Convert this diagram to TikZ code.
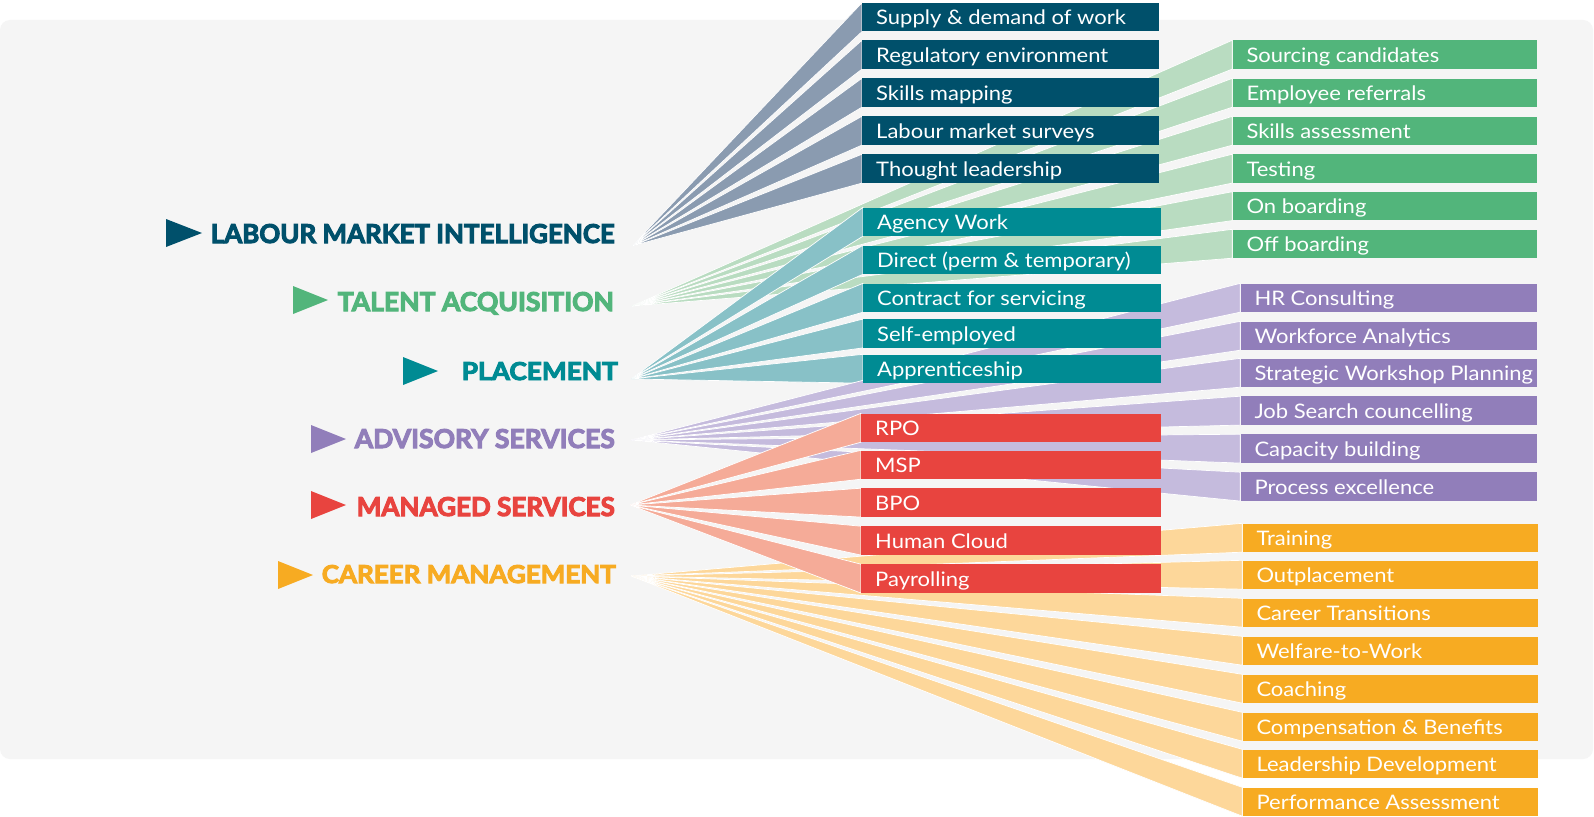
\documentclass[tikz,border=0pt]{standalone}
\usepackage{fontspec}
\usepackage{graphicx}
\setmainfont{Lato}
\newfontfamily\itemfont{Lato}[FakeStretch=1.1]
\newfontfamily\headfont{Lato}[BoldFeatures={FakeBold=4}]
\definecolor{bgc}{HTML}{F5F5F5}
\definecolor{lmc}{HTML}{00506B}\definecolor{lmf}{HTML}{8A9BB0}
\definecolor{tac}{HTML}{52B57B}\definecolor{taf}{HTML}{B9DCC1}
\definecolor{plc}{HTML}{008B93}\definecolor{plf}{HTML}{88C1C7}
\definecolor{adc}{HTML}{917EBA}\definecolor{adf}{HTML}{C5BBDD}
\definecolor{msc}{HTML}{E8443F}\definecolor{msf}{HTML}{F5AB98}
\definecolor{cmc}{HTML}{F7AB22}\definecolor{cmf}{HTML}{FDD79A}
\newcommand\itm[2]{\hbox to #1{\hspace{14pt}#2\hfil}}
\pgfdeclarelayer{back}\pgfdeclarelayer{fans}
\pgfsetlayers{back,fans,main}
\begin{document}
\begin{tikzpicture}[x=1pt,y=-1pt,
  itm/.style={inner sep=0pt, minimum height=28.5pt, text height=22pt, text depth=6.5pt,
    anchor=north west, text=white, font=\itemfont\fontsize{20}{24}\selectfont},
  hd/.style={inner sep=0pt, anchor=base east, font=\headfont\bfseries},
  fan/.style={draw=white, line width=0.7pt, line join=bevel}]
\useasboundingbox (0,0) rectangle (1594,816);
\begin{pgfonlayer}{back}
\fill[white] (0,0) rectangle (1594,816);
\fill[bgc, rounded corners=10pt] (0,20) rectangle (1593,759);
\end{pgfonlayer}

% headings
\node[hd, text=lmc] (hlm) at (615,243) {\resizebox{404pt}{19pt}{LABOUR MARKET INTELLIGENCE}};
\node[hd, text=tac] (hta) at (614,311) {\resizebox{276pt}{19pt}{TALENT ACQUISITION}};
\node[hd, text=plc] (hpl) at (618,380) {\resizebox{156pt}{18pt}{PLACEMENT}};
\node[hd, text=adc] (had) at (615,448) {\resizebox{260pt}{19pt}{ADVISORY SERVICES}};
\node[hd, text=msc] (hms) at (615,516) {\resizebox{258pt}{19pt}{MANAGED SERVICES}};
\node[hd, text=cmc] (hcm) at (616,583) {\resizebox{294pt}{18pt}{CAREER MANAGEMENT}};
\fill[lmc] (166,219) -- (166,247) -- (202,233) -- cycle;
\fill[tac] (293,286) -- (293,314) -- (328,300) -- cycle;
\fill[plc] (403,357) -- (403,385) -- (438,371) -- cycle;
\fill[adc] (311,425) -- (311,453) -- (346,439) -- cycle;
\fill[msc] (311,491) -- (311,519) -- (346,505) -- cycle;
\fill[cmc] (278,561) -- (278,589) -- (313,575) -- cycle;

% apexes
\coordinate (alm) at (632,246);
\coordinate (ata) at (632,306);
\coordinate (apl) at (631,379);
\coordinate (aad) at (631,440);
\coordinate (ams) at (630,505);
\coordinate (acm) at (631,576);

% boxes
\foreach \k/\t/\s in {1/2.7/{Supply \& demand of work},2/40.2/{Regulatory environment},3/78.2/{Skills mapping},4/116.2/{Labour market surveys},5/154.2/{Thought leadership}}
  \node[itm, fill=lmc] (lm\k) at (862,\t) {\itm{297pt}{\s}};
\foreach \k/\t/\s in {1/40.2/{Sourcing candidates},2/78.3/{Employee referrals},3/116.3/{Skills assessment},4/154.2/{Testing},5/191.7/{On boarding},6/229.3/{Off boarding}}
  \node[itm, fill=tac] (ta\k) at (1232.3,\t) {\itm{304.4pt}{\s}};
\foreach \k/\t/\s in {1/207.3/{Agency Work},2/245.3/{Direct (perm \& temporary)},3/283.3/{Contract for servicing},4/319/{Self-employed},5/354.3/{Apprenticeship}}
  \node[itm, fill=plc] (pl\k) at (863,\t) {\itm{298pt}{\s}};
\foreach \k/\t/\s in {1/283.3/{HR Consulting},2/321.3/{Workforce Analytics},3/358.3/{Strategic Workshop Planning},4/396.2/{Job Search councelling},5/434.2/{Capacity building},6/472.2/{Process excellence}}
  \node[itm, fill=adc] (ad\k) at (1240.3,\t) {\itm{296.4pt}{\s}};
\foreach \k/\t/\s in {1/413.3/{RPO},2/450.3/{MSP},3/488.2/{BPO},4/526.2/{Human Cloud},5/564.2/{Payrolling}}
  \node[itm, fill=msc] (ms\k) at (861,\t) {\itm{300pt}{\s}};
\foreach \k/\t/\s in {1/523.3/{Training},2/560.3/{Outplacement},3/598.3/{Career Transitions},4/636.3/{Welfare-to-Work},5/674.3/{Coaching},6/712.3/{Compensation \& Benefits},7/749.3/{Leadership Development},8/787.3/{Performance Assessment}}
  \node[itm, fill=cmc] (cm\k) at (1242.3,\t) {\itm{295.7pt}{\s}};

% fans
\begin{pgfonlayer}{fans}
\foreach \k in {1,...,5} \filldraw[fan, fill=lmf] (alm) -- (lm\k.north west) -- (lm\k.south west) -- cycle;
\foreach \k in {1,...,6} \filldraw[fan, fill=taf] (ata) -- (ta\k.north west) -- (ta\k.south west) -- cycle;
\foreach \k in {1,...,5} \filldraw[fan, fill=plf] (apl) -- (pl\k.north west) -- (pl\k.south west) -- cycle;
\foreach \k in {1,...,6} \filldraw[fan, fill=adf] (aad) -- (ad\k.north west) -- (ad\k.south west) -- cycle;
\foreach \k in {1,...,8} \filldraw[fan, fill=cmf] (acm) -- (cm\k.north west) -- (cm\k.south west) -- cycle;
\foreach \k in {1,...,5} \filldraw[fan, fill=msf] (ams) -- (ms\k.north west) -- (ms\k.south west) -- cycle;
\end{pgfonlayer}
\end{tikzpicture}
\end{document}
